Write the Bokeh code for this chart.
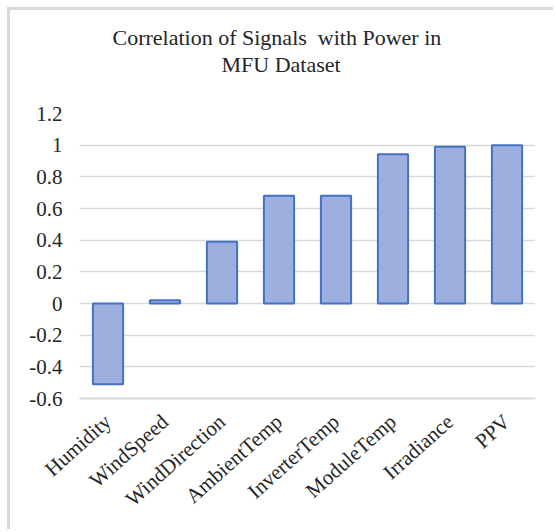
import math
from bokeh.plotting import figure
from bokeh.models import ColumnDataSource, Range1d, FactorRange, FixedTicker, Title
from bokeh.embed import file_html
from bokeh.resources import INLINE

# Correlation of each signal with power output
signals = ["Humidity", "WindSpeed", "WindDirection", "AmbientTemp",
           "InverterTemp", "ModuleTemp", "Irradiance", "PPV"]
correlation = [-0.51, 0.02, 0.39, 0.68, 0.68, 0.943, 0.99, 1.0]
y_ticks = [-0.6, -0.4, -0.2, 0, 0.2, 0.4, 0.6, 0.8, 1, 1.2]
y_tick_labels = ["-0.6", "-0.4", "-0.2", "0", "0.2", "0.4", "0.6", "0.8", "1", "1.2"]
title_lines = ["Correlation of Signals\u00a0 with Power in", "MFU Dataset"]

FONT = "Liberation Serif"
TEXT = "#262626"
GRID = "#d9d9d9"

source = ColumnDataSource(data=dict(signal=signals, corr=correlation))

p = figure(width=546, height=522, x_range=FactorRange(*signals, range_padding=0),
           y_range=Range1d(-0.6, 1.2), output_backend="svg", toolbar_location=None,
           min_border_left=69, min_border_right=21, min_border_top=103,
           min_border_bottom=134)
p.margin = (7, 0, 0, 7)
p.styles = {"border-left": "3px solid #d9d9d9", "border-top": "3px solid #d9d9d9"}
p.outline_line_color = None
p.background_fill_color = "white"
p.border_fill_color = "white"

p.vbar(x="signal", top="corr", bottom=0, width=0.53, source=source,
       fill_color="#9cafdf", line_color="#4472c4", line_width=2)

# y axis
p.yaxis.ticker = FixedTicker(ticks=y_ticks)
p.yaxis.major_label_overrides = {t: l for t, l in zip(y_ticks, y_tick_labels)}
p.yaxis.axis_line_color = None
p.yaxis.major_tick_line_color = None
p.yaxis.major_tick_out = 0
p.yaxis.major_tick_in = 0
p.yaxis.minor_tick_line_color = None
p.yaxis.major_label_standoff = 17
p.yaxis.major_label_text_font = FONT
p.yaxis.major_label_text_font_size = "21px"
p.yaxis.major_label_text_color = TEXT

# x axis
p.xaxis.axis_line_color = GRID
p.xaxis.axis_line_width = 2
p.xaxis.major_tick_line_color = None
p.xaxis.major_tick_out = 0
p.xaxis.major_tick_in = 0
p.xaxis.major_label_orientation = 0.73
p.xaxis.major_label_standoff = 20
p.xaxis.major_label_text_font = FONT
p.xaxis.major_label_text_font_size = "21px"
p.xaxis.major_label_text_color = TEXT

p.xgrid.grid_line_color = None
p.ygrid.grid_line_color = GRID
p.ygrid.grid_line_width = 1.5
p.ygrid.ticker = FixedTicker(ticks=y_ticks)

# gap between the title block and the plot frame
p.add_layout(Title(text=" ", text_font_size="2px", standoff=33), "above")

# two-line chart title
for line, off in zip(reversed(title_lines), (142, 33)):
    p.add_layout(Title(text=line, align="left", offset=off, text_font=FONT,
                       text_font_size="22px", text_font_style="normal",
                       text_color=TEXT, standoff=0), "above")

open("out.html", "w").write(file_html(p, INLINE))
